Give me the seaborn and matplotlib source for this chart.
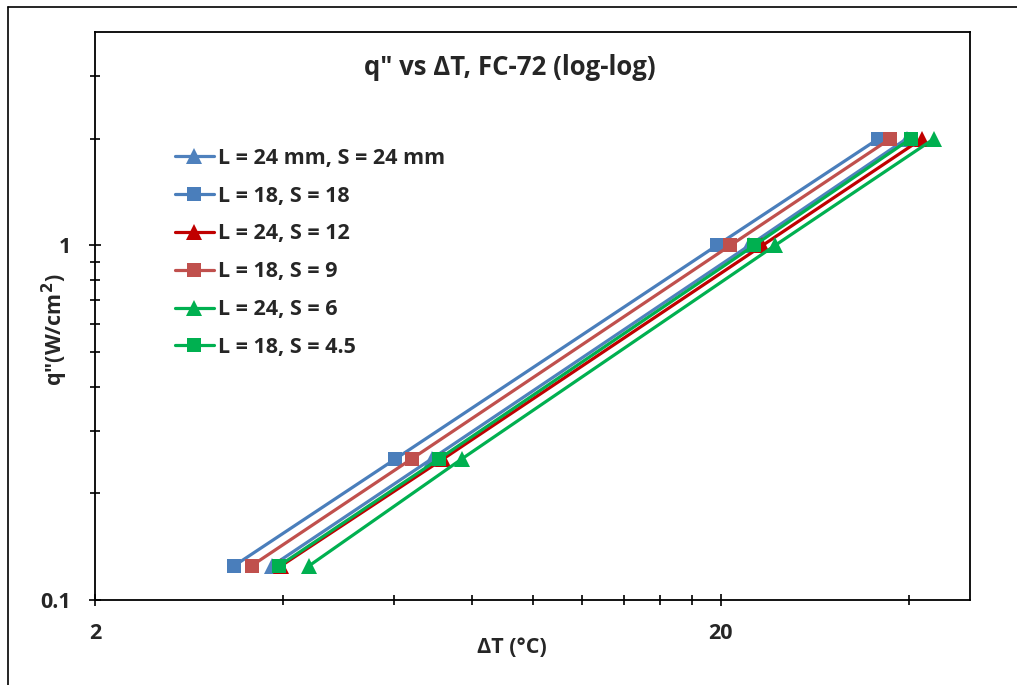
import numpy as np
import pandas as pd
import matplotlib
matplotlib.use("Agg")
import matplotlib.pyplot as plt
import matplotlib.ticker as mticker
import seaborn as sns

# ---- data ----
q_flux = [0.125, 0.25, 1.0, 2.0]
labels = ["L = 24 mm, S = 24 mm", "L = 18, S = 18", "L = 24, S = 12",
          "L = 18, S = 9", "L = 24, S = 6", "L = 18, S = 4.5"]
dT_24_24 = [3.84, 6.90, 22.2, 39.6]
dT_18_18 = [3.34, 6.04, 19.7, 35.7]
dT_24_12 = [3.97, 7.20, 23.3, 41.9]
dT_18_9 = [3.56, 6.41, 20.7, 37.3]
dT_24_6 = [4.40, 7.71, 24.4, 43.8]
dT_18_45 = [3.94, 7.09, 22.6, 40.2]
series = [dT_24_24, dT_18_18, dT_24_12, dT_18_9, dT_24_6, dT_18_45]

x_major = [2, 20]
x_minor = [4, 6, 8, 10, 12, 14, 16, 18, 40]
y_major = [0.1, 1]
y_minor = [0.2, 0.3, 0.4, 0.5, 0.6, 0.7, 0.8, 0.9, 2, 3]

colors = ["#4F81BD", "#4A7EBB", "#C00000", "#C0504D", "#00B050", "#00B050"]
markers = ["^", "s", "^", "s", "^", "s"]

sns.set_theme(style="white")
plt.rcParams['font.family'] = ['Open Sans', 'DejaVu Sans']
plt.rcParams['font.weight'] = 'bold'

W, H = 1017, 685
fig = plt.figure(figsize=(W / 100, H / 100), dpi=100)
ax = fig.add_axes([95 / W, 1 - 600 / H, (970 - 95) / W, (600 - 32) / H])

for lab, xs, c, m in zip(labels, series, colors, markers):
    df = pd.DataFrame({"dT": xs, "q": q_flux})
    ms = 11 if m == "^" else 9.5
    sns.lineplot(data=df, x="dT", y="q", ax=ax, color=c, marker=m,
                 markersize=ms, markeredgewidth=0, linewidth=2.3,
                 sort=False, label=lab)

ax.set_xscale("log")
ax.set_yscale("log")
ax.set_xlim(2, 50)
ax.set_ylim(0.1, 4)

ax.xaxis.set_major_locator(mticker.FixedLocator(x_major))
ax.xaxis.set_minor_locator(mticker.FixedLocator(x_minor))
ax.yaxis.set_major_locator(mticker.FixedLocator(y_major))
ax.yaxis.set_minor_locator(mticker.FixedLocator(y_minor))
ax.xaxis.set_major_formatter(mticker.FixedFormatter(["2", "20"]))
ax.xaxis.set_minor_formatter(mticker.NullFormatter())
ax.yaxis.set_major_formatter(mticker.FixedFormatter(["0.1", "1"]))
ax.yaxis.set_minor_formatter(mticker.NullFormatter())

ax.tick_params(which="both", direction="inout", color="black", width=1.2,
               bottom=True, left=True, top=False, right=False)
ax.tick_params(which="major", length=9, labelsize=15.5)
ax.tick_params(axis="x", which="major", pad=12)
ax.tick_params(axis="y", which="major", pad=13)
ax.tick_params(which="minor", length=7)
for lbl in ax.get_xticklabels() + ax.get_yticklabels():
    lbl.set_fontweight("bold")

for s in ax.spines.values():
    s.set_color("black")
    s.set_linewidth(1.3)

ax.set_xlabel("ΔT (°C)", fontsize=15.5, fontweight="bold", va="center")
ax.xaxis.set_label_coords(0.476, -0.083)
ax.set_ylabel("q\"(W/cm$\\mathbf{^2}$)", fontsize=15.5, fontweight="bold")
ax.yaxis.set_label_coords(-0.028, 0.475)
ax.text(0.474, 0.937, "q\" vs ΔT, FC-72 (log-log)", transform=ax.transAxes,
        fontsize=18.5, fontweight="bold", ha="center", va="center")

leg = ax.legend(loc="upper left", bbox_to_anchor=(0.0914, 0.796), frameon=False,
                fontsize=15.5, handlelength=1.8, handletextpad=0.22,
                labelspacing=0.78, borderaxespad=0, borderpad=0)
for t in leg.get_texts():
    t.set_fontweight("bold")

# outer chart border (left and top visible)
fig.add_artist(plt.Line2D([8 / W, 8 / W], [0, 1 - 7 / H], transform=fig.transFigure,
                          color="black", linewidth=1.2))
fig.add_artist(plt.Line2D([8 / W, 1], [1 - 7 / H, 1 - 7 / H], transform=fig.transFigure,
                          color="black", linewidth=1.2))

fig.savefig("out.png", dpi=100)
